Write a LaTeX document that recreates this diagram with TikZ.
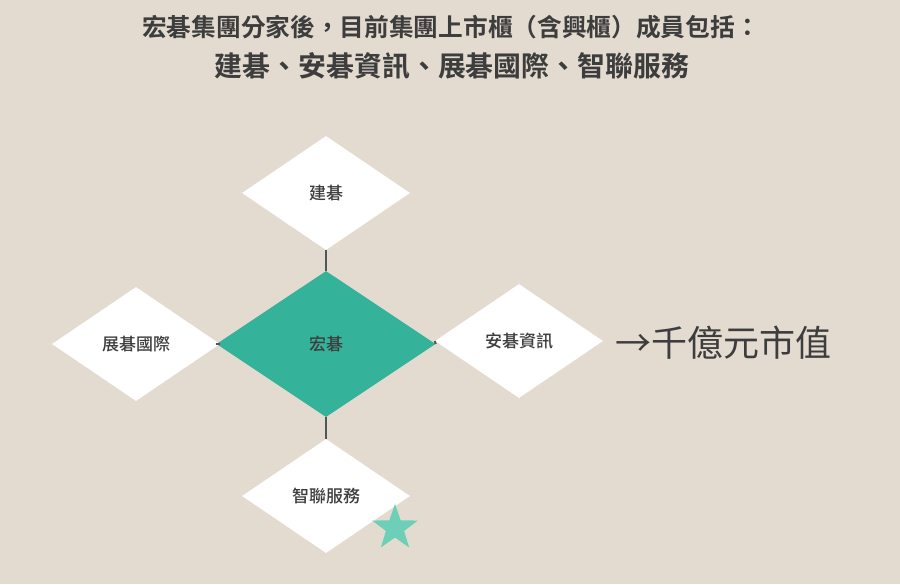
\documentclass[tikz,border=0pt]{standalone}
\usepackage{fontspec}
\newfontfamily\cjk{Noto Sans CJK TC}
\newfontfamily\cjkb{Noto Sans CJK TC Bold}
\newfontfamily\cjkm{Noto Sans CJK TC Medium}
\usetikzlibrary{shapes.geometric}
\definecolor{bg}{HTML}{E3DBD0}
\definecolor{teal}{HTML}{35B29A}
\definecolor{startl}{HTML}{6ECFB9}
\definecolor{ink}{HTML}{3D3D3D}
\definecolor{linec}{HTML}{555555}
\tikzset{
  dia/.style={diamond, fill=white, draw=none, inner sep=0pt, minimum width=168pt, minimum height=114pt, font=\cjkm\fontsize{17}{17}\selectfont, text=ink},
  hub/.style={dia, fill=teal, minimum width=219pt, minimum height=146pt},
  conn/.style={draw=linec, line width=2pt},
}
\begin{document}
\begin{tikzpicture}[x=1pt,y=-1pt]
\fill[bg] (0,0) rectangle (900,584);
\useasboundingbox (0,0) rectangle (900,584);
\node[text=ink, font=\cjkb\fontsize{24.7}{24.7}\selectfont] (t1) at (451,27) {宏碁集團分家後，目前集團上市櫃（含興櫃）成員包括：};
\node[text=ink, font=\cjkb\fontsize{27.9}{27.9}\selectfont] (t2) at (452,66) {建碁、安碁資訊、展碁國際、智聯服務};
\node[hub] (c) at (326,344) {宏碁};
\node[dia] (n) at (326,193) {建碁};
\node[dia] (w) at (136,344) {展碁國際};
\node[dia] (e) at (519,341) {安碁資訊};
\node[dia] (s) at (326,496) {智聯服務};
\draw[conn] (n.south) -- (c.north);
\draw[conn] (c.south) -- (s.north);
\draw[conn] (w.east) -- (c.west);
\draw[conn] (c.east) -- (e.west);
\node[star, star points=5, star point ratio=2.5, fill=startl, draw=none, minimum size=48pt, inner sep=0pt] (st) at (395,528) {};
\node[anchor=west, text=ink, font=\cjk\fontsize{36}{36}\selectfont] (v) at (612,343) {→千億元市值};
\end{tikzpicture}
\end{document}
